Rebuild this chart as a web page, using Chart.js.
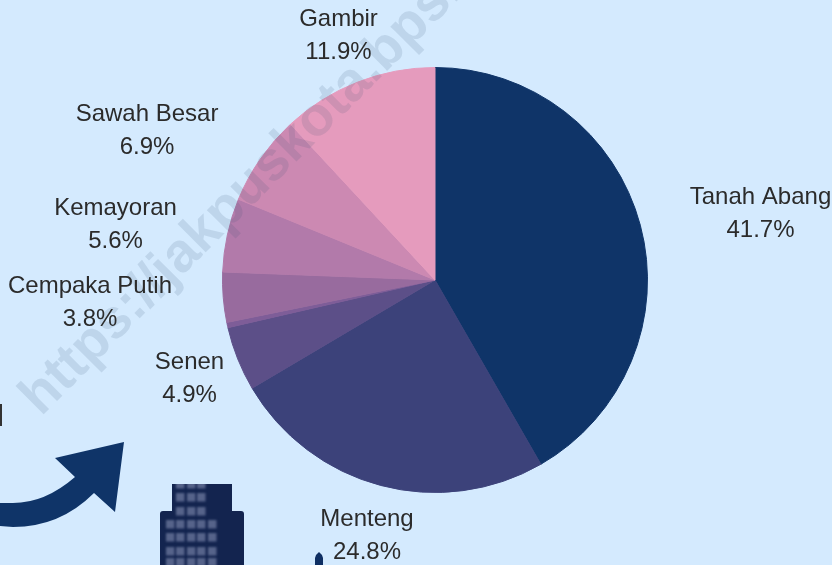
<!DOCTYPE html>
<html>
<head>
<meta charset="utf-8">
<style>
html,body{margin:0;padding:0;background:#d4eafe;overflow:hidden}
canvas{display:block;filter:blur(0.35px)}
</style>
<script src="https://cdn.jsdelivr.net/npm/chart.js@4/dist/chart.umd.min.js"></script>
</head>
<body>
<canvas id="c" width="832" height="565"></canvas>
<script>
const districts = ["Tanah Abang","Menteng","Senen","Johar Baru","Cempaka Putih","Kemayoran","Sawah Besar","Gambir"];
const shares = [41.7,24.8,4.9,0.4,3.8,5.6,6.9,11.9];
const sliceColors = ["#0f3468","#3c427a","#5c4f88","#7e5d98","#986b9e","#b27aaa","#cc89b2","#e59bbd"];
const hiddenLabels = ["Johar Baru"];
const labelPlaces = {
  "Tanah Abang":[760.5,197],"Menteng":[367,519],"Senen":[189.5,362],"Cempaka Putih":[90,286],
  "Kemayoran":[115.5,208],"Sawah Besar":[147,114],"Gambir":[338.5,19]
};
const watermark = "https://jakpuskota.bps.go.id";

const decor = {
  id:"decor",
  afterDatasetsDraw(chart){
    const g = chart.ctx;
    // watermark
    g.save();
    g.translate(41,417);
    g.rotate(-Math.PI/4);
    g.font = "bold 55px 'Liberation Sans'";
    g.fillStyle = "rgba(50,80,110,0.13)";
    g.textAlign = "left";
    g.textBaseline = "alphabetic";
    g.fillText(watermark,0,0);
    g.restore();

    // arrow
    g.fillStyle = "#0f3468";
    g.beginPath();
    g.moveTo(124,442);g.lineTo(55,458);g.lineTo(75,477);
    g.quadraticCurveTo(45,503,13,503);
    g.lineTo(0,503);g.lineTo(0,526);
    g.lineTo(13,527);
    g.quadraticCurveTo(60,527,94,493);
    g.lineTo(115,512);
    g.closePath();g.fill();

    // building
    g.fillStyle = "#13244f";
    g.beginPath();
    g.moveTo(172,484);g.lineTo(232,484);g.lineTo(232,511);g.lineTo(241,511);
    g.quadraticCurveTo(244,511,244,514);g.lineTo(244,565);g.lineTo(160,565);g.lineTo(160,514);
    g.quadraticCurveTo(160,511,163,511);g.lineTo(172,511);g.closePath();g.fill();
    g.save();
    g.filter = "blur(0.8px)";
    g.beginPath();g.rect(150,484,110,90);g.clip();
    g.fillStyle = "#56638a";
    [176,187,197].forEach(x=>{[480,493,507].forEach(y=>{g.fillRect(x,y,8.5,8.5);});});
    [166,176,187,197,208].forEach(x=>{[520,533,547,558].forEach(y=>{g.fillRect(x,y,8.5,8.5);});});
    g.restore();

    // spire
    g.fillStyle = "#0f2f63";
    g.beginPath();
    g.moveTo(315,565);g.lineTo(315,558);g.quadraticCurveTo(316,554,319,552);
    g.quadraticCurveTo(322,554,323,558);g.lineTo(323,565);g.closePath();g.fill();

    // clipped glyph at the left edge
    g.fillStyle = "#333333";
    g.fillRect(0,404,2,22);

    // labels
    g.fillStyle = "#2b2b2b";
    g.font = "24px 'Liberation Sans'";
    g.textAlign = "center";
    g.textBaseline = "middle";
    districts.forEach((d,i)=>{
      if(hiddenLabels.includes(d)) return;
      const p = labelPlaces[d];
      g.fillText(d,p[0],p[1]);
      g.fillText(shares[i].toFixed(1)+"%",p[0],p[1]+33);
    });
  }
};

new Chart(document.getElementById("c"),{
  type:"pie",
  data:{labels:districts,datasets:[{data:shares,backgroundColor:sliceColors,borderColor:sliceColors,borderWidth:1,hoverOffset:0}]},
  options:{
    responsive:false,
    animation:false,
    layout:{padding:{left:222,right:184,top:67,bottom:72}},
    plugins:{legend:{display:false},tooltip:{enabled:false},title:{display:false}}
  },
  plugins:[decor]
});
</script>
</body>
</html>
